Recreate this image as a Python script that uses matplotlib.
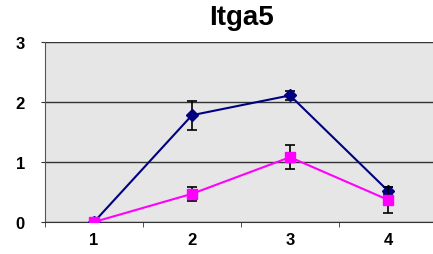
import matplotlib
matplotlib.use("Agg")
import matplotlib.pyplot as plt

# data
categories = [1, 2, 3, 4]
blue_vals = [0.0, 1.78, 2.11, 0.52]
blue_err = [0.0, 0.24, 0.07, 0.06]
pink_vals = [0.0, 0.47, 1.08, 0.37]
pink_err = [0.0, 0.12, 0.20, 0.22]
title = "Itga5"

plt.rcParams['font.family'] = ['Liberation Sans', 'DejaVu Sans']

fig = plt.figure(figsize=(4.33, 2.55), dpi=100)
ax = fig.add_axes([45 / 433, 32 / 255, 392 / 433, 180 / 255])
ax.set_facecolor('#e6e6e6')

ax.errorbar(categories, blue_vals, yerr=blue_err, color='#000080', marker='D',
            markersize=6, linewidth=1.5, ecolor='black', elinewidth=1.2,
            capsize=3.5, capthick=1.2, zorder=3)
ax.errorbar(categories, pink_vals, yerr=pink_err, color='#ff00ff', marker='s',
            markersize=7, linewidth=1.5, ecolor='black', elinewidth=1.2,
            capsize=3.5, capthick=1.2, zorder=4)

ax.set_xlim(0.5, 4.5)
ax.set_ylim(0, 3)
ax.set_yticks([0, 1, 2, 3])
ax.yaxis.grid(True, color='#333333', linewidth=1.0)
ax.set_axisbelow(True)

ax.set_xticks(categories)
ax.set_xticks([0.5, 1.5, 2.5, 3.5, 4.5], minor=True)
ax.tick_params(axis='x', which='major', length=0, pad=7)
ax.tick_params(axis='x', which='minor', length=3.5, color='#333333')
ax.tick_params(axis='y', length=3, pad=11.5, color='#333333')
for lab in ax.get_xticklabels() + ax.get_yticklabels():
    lab.set_fontsize(12)
    lab.set_fontweight('bold')

for s in ['top', 'right']:
    ax.spines[s].set_visible(False)
ax.spines['left'].set_color('#555555')
ax.spines['bottom'].set_color('#333333')

fig.text(241 / 433, 1 - 25 / 255, title, ha='center', va='baseline',
         fontsize=20, fontweight='bold')

fig.savefig('out.png', dpi=100)
